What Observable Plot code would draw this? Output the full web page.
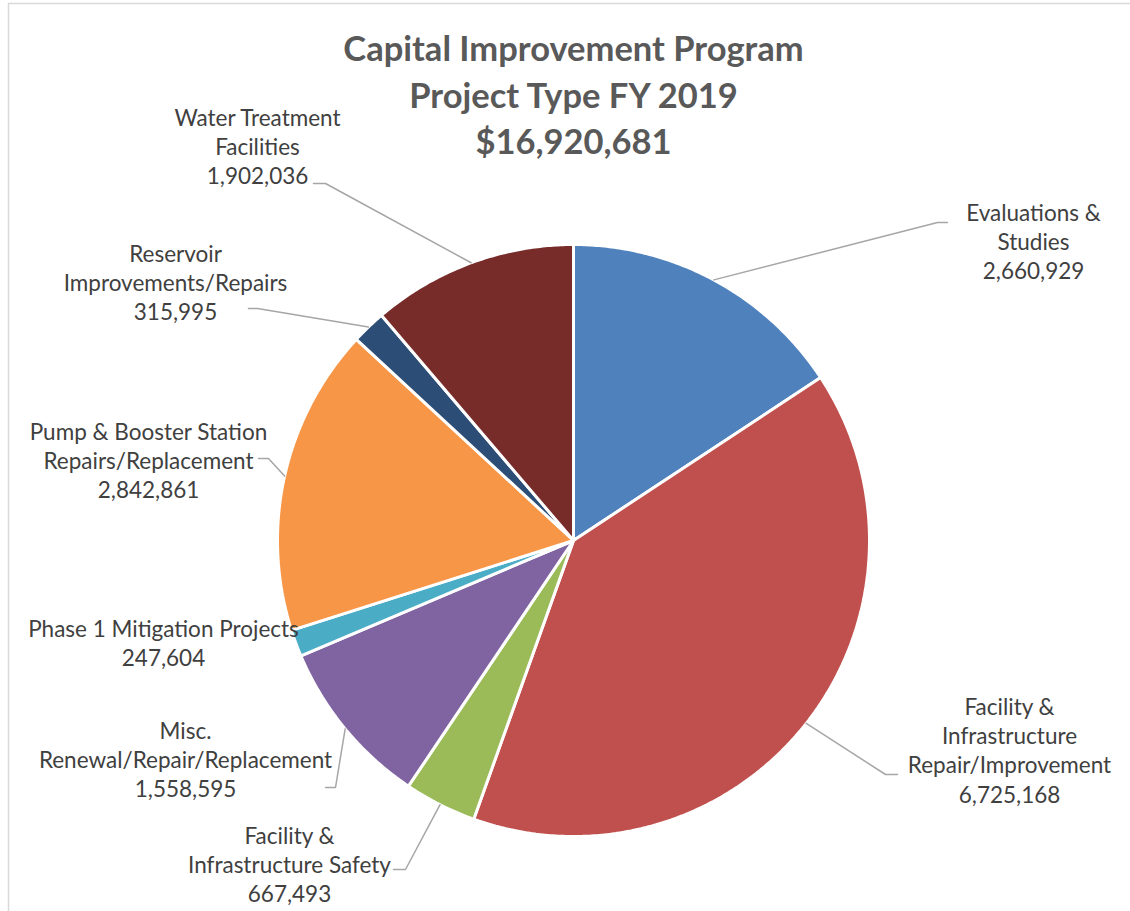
<!DOCTYPE html>
<html>
<head>
<meta charset="utf-8">
<script src="https://cdn.jsdelivr.net/npm/d3@7"></script>
<script src="https://cdn.jsdelivr.net/npm/@observablehq/plot@0.6"></script>
<style>
  html, body { margin: 0; padding: 0; background: #fff; }
  #chart svg { display: block; }
</style>
</head>
<body>
<div id="chart"></div>
<script>
// ---- Data ----
const categories = [
  "Evaluations & Studies",
  "Facility & Infrastructure Repair/Improvement",
  "Facility & Infrastructure Safety",
  "Misc. Renewal/Repair/Replacement",
  "Phase 1 Mitigation Projects",
  "Pump & Booster Station Repairs/Replacement",
  "Reservoir Improvements/Repairs",
  "Water Treatment Facilities"
];
const values = [2660929, 6725168, 667493, 1558595, 247604, 2842861, 315995, 1902036];
const labelText = [
  "Evaluations &\nStudies",
  "Facility &\nInfrastructure\nRepair/Improvement",
  "Facility &\nInfrastructure Safety",
  "Misc.\nRenewal/Repair/Replacement",
  "Phase 1 Mitigation Projects",
  "Pump & Booster Station\nRepairs/Replacement",
  "Reservoir\nImprovements/Repairs",
  "Water Treatment\nFacilities"
];
const titleLines = ["Capital Improvement Program", "Project Type FY 2019", "$16,920,681"];

// ---- Styles ----
const palette = ["#4F81BD", "#C0504D", "#9BBB59", "#8064A2", "#4BACC6", "#F79646", "#2C4D75", "#772C2A"];

// ---- Layout (pixels) ----
const W = 1130, H = 911;
const pie = {cx: 573, cy: 540, r: 296};
// label block centre (x, y) and leader elbow / end points (null = no leader)
const labelLayout = [
  {lx: 1033, ly: 240, elbow: [937, 222], end: [947, 222]},
  {lx: 1009, ly: 749, elbow: [885, 774], end: [897, 774]},
  {lx: 289,  ly: 863, elbow: [405, 869], end: [393, 869]},
  {lx: 185,  ly: 758, elbow: [335, 787], end: [325, 787]},
  {lx: 163,  ly: 642, elbow: null, end: null},
  {lx: 148,  ly: 459, elbow: [268, 458], end: [258, 458]},
  {lx: 175,  ly: 281, elbow: [257, 308], end: [248, 308]},
  {lx: 257,  ly: 145, elbow: [325, 183], end: [313, 183]}
];
const titleLayout = {x: 573, y: [49, 96, 142.5]};

// ---- Geometry derived from values ----
const fmt = d3.format(",");
const total = d3.sum(values);
let acc = 0;
const slices = categories.map((c, i) => {
  const a0 = acc / total * 2 * Math.PI;
  acc += values[i];
  const a1 = acc / total * 2 * Math.PI;
  return {c, v: values[i], a0, a1, i};
});
const pt = (a, rr) => ({x: pie.cx + rr * Math.sin(a), y: pie.cy - rr * Math.cos(a)});

const slicePts = slices.flatMap(s => {
  const n = Math.max(2, Math.ceil((s.a1 - s.a0) / (Math.PI / 360)));
  const pts = [{c: s.c, x: pie.cx, y: pie.cy}];
  for (let k = 0; k <= n; k++) {
    const p = pt(s.a0 + (s.a1 - s.a0) * k / n, pie.r);
    pts.push({c: s.c, ...p});
  }
  return pts;
});

const leaderPts = slices.flatMap((s, i) => {
  const L = labelLayout[i];
  if (!L.elbow) return [];
  const p = pt((s.a0 + s.a1) / 2, pie.r);
  return [
    {c: s.c, x: p.x, y: p.y},
    {c: s.c, x: L.elbow[0], y: L.elbow[1]},
    {c: s.c, x: L.end[0], y: L.end[1]}
  ];
});

const labels = slices.map((s, i) => ({
  c: s.c,
  x: labelLayout[i].lx,
  y: labelLayout[i].ly,
  text: labelText[i] + "\n" + fmt(s.v)
}));

const titles = titleLines.map((t, i) => ({t, x: titleLayout.x, y: titleLayout.y[i]}));

const chart = Plot.plot({
  width: W,
  height: H,
  margin: 0,
  style: {background: "#fff", overflow: "hidden"},
  x: {domain: [0, W], range: [0, W], axis: null},
  y: {domain: [0, H], range: [0, H], axis: null},
  color: {domain: categories, range: palette},
  marks: [
    Plot.frame({stroke: "#d9d9d9", strokeWidth: 1.5, insetLeft: 8, insetTop: 3, insetRight: -10, insetBottom: -10}),
    Plot.line(slicePts, {x: "x", y: "y", z: "c", fill: "c", stroke: "#fff", strokeWidth: 3, strokeLinejoin: "miter", curve: "linear-closed"}),
    Plot.line(leaderPts, {x: "x", y: "y", z: "c", stroke: "#a6a6a6", strokeWidth: 1.5, strokeLinejoin: "miter", curve: "linear"}),
    Plot.text(labels, {x: "x", y: "y", text: "text", fill: "#404040", fontSize: 22.5, lineHeight: 1.3, textAnchor: "middle", lineAnchor: "middle", fontFamily: "Lato"}),
    Plot.text(titles, {x: "x", y: "y", text: "t", fill: "#595959", fontSize: 34.5, fontWeight: "bold", textAnchor: "middle", lineAnchor: "middle", fontFamily: "Lato"})
  ]
});
document.getElementById("chart").appendChild(chart);
</script>
</body>
</html>
